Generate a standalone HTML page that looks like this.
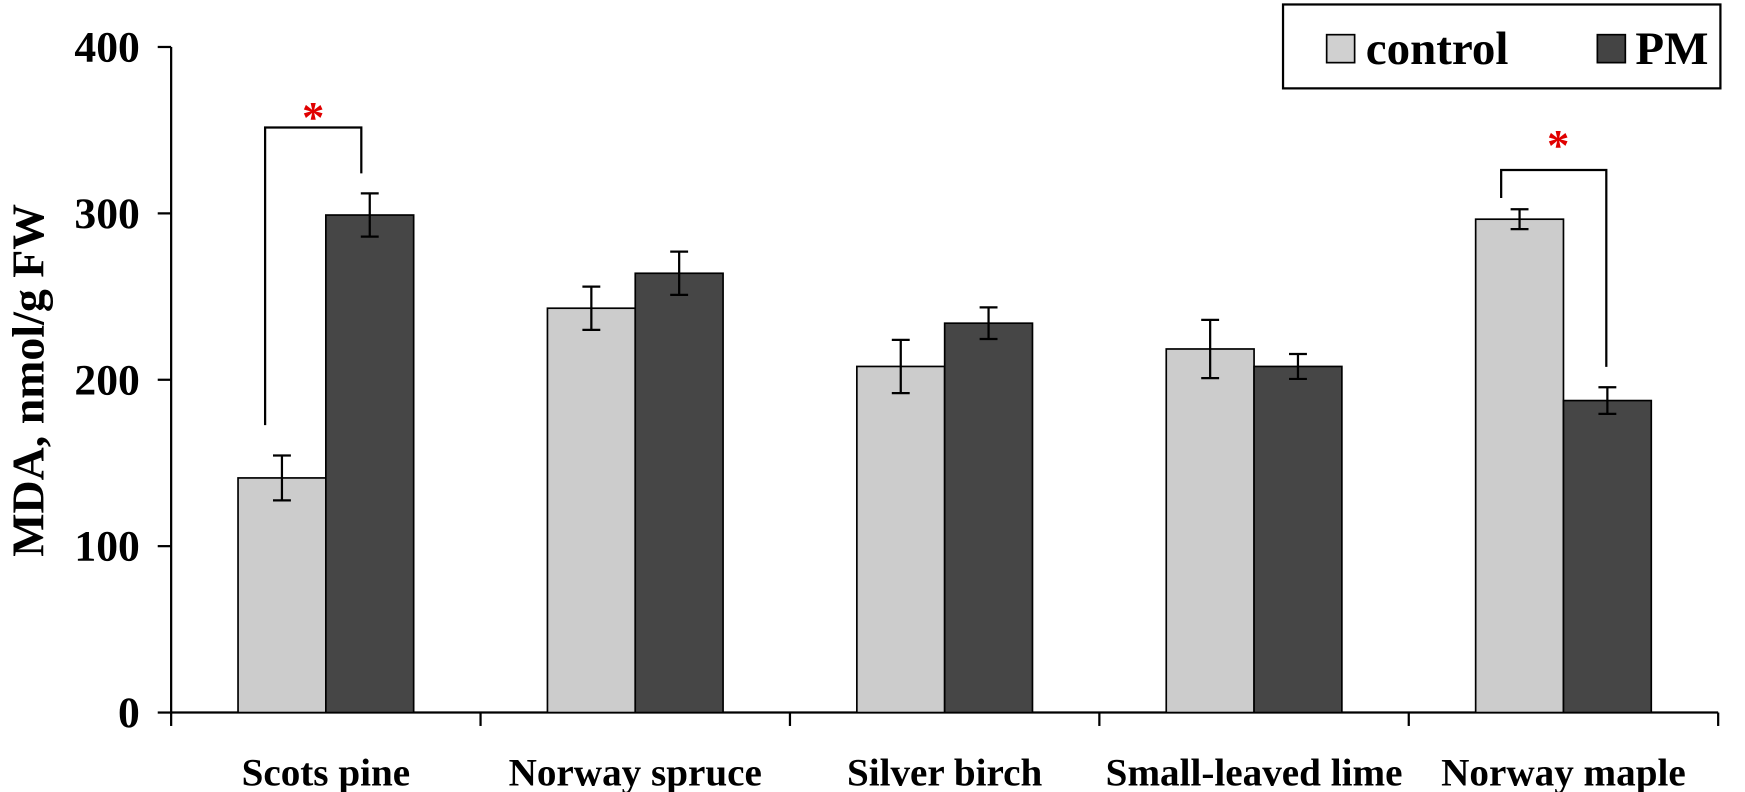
<!DOCTYPE html>
<html><head><meta charset="utf-8"><style>
html,body{margin:0;padding:0;background:#fff}
svg{display:block;font-family:"Liberation Serif",serif;font-weight:bold}
</style></head><body>
<svg width="1745" height="792" viewBox="0 0 1745 792">
<g transform="scale(1.1186)">
<g id="axes"></g><g id="bars"></g>
<g>
<rect x="1147" y="4" width="391" height="75" fill="#fff" stroke="#000" stroke-width="2"/>
<rect x="1186" y="31" width="25" height="25" fill="#d0d0d0" stroke="#000" stroke-width="1.5"/>
<text x="1221" y="57" font-size="42">control</text>
<rect x="1428" y="31" width="25" height="25" fill="#444" stroke="#000" stroke-width="1.5"/>
<text x="1462" y="57" font-size="42">PM</text>
</g>
<text transform="translate(39,340) rotate(-90)" text-anchor="middle" font-size="41">MDA, nmol/g FW</text>
<g>
<polyline points="237,380 237,114 323,114 323,155" fill="none" stroke="#000" stroke-width="2"/>
<text x="280" y="118" text-anchor="middle" font-size="40" fill="#e00000">*</text>
</g>
<g>
<polyline points="1342,177 1342,152 1436,152 1436,328" fill="none" stroke="#000" stroke-width="2"/>
<text x="1393" y="143" text-anchor="middle" font-size="40" fill="#e00000">*</text>
</g>
</g>
</svg>
<script>
const categories=["Scots pine","Norway spruce","Silver birch","Small-leaved lime","Norway maple"];
const controlValues=[141,243,208,218.5,296.5];
const controlErrors=[13.5,13,16,17.5,6];
const pmValues=[299,264,234,208,187.5];
const pmErrors=[13,13,9.5,7.5,8];
const yTicks=[0,100,200,300,400];
const NS="http://www.w3.org/2000/svg";
const x0=153,x1=1536,y0=637,yTop=42,yMax=400;
const y=v=>y0-(v/yMax)*(y0-yTop);
const cw=(x1-x0)/categories.length;
const bw=78.5;
function mk(t,a,p){const e=document.createElementNS(NS,t);for(const k in a)e.setAttribute(k,a[k]);p.appendChild(e);return e;}
const axes=document.getElementById('axes'),bars=document.getElementById('bars');
let l=mk('line',{x1:x0,y1:yTop,x2:x0,y2:y0+1,stroke:'#000','stroke-width':2},axes);


l=mk('line',{x1:x0-1,y1:y0,x2:x1,y2:y0,stroke:'#000','stroke-width':2},axes);


yTicks.forEach(v=>{
 const t=mk('line',{x1:x0-12,y1:y(v),x2:x0,y2:y(v),stroke:'#000','stroke-width':2},axes);
 
 
 const tx=mk('text',{x:x0-28,y:y(v)+13,'text-anchor':'end','font-size':39},axes);
 tx.textContent=v;
 
 
});
for(let i=0;i<=categories.length;i++){
 const t=mk('line',{x1:x0+i*cw,y1:y0,x2:x0+i*cw,y2:y0+12,stroke:'#000','stroke-width':2},axes);
 
 
}
function bar(xl,v,e,fill,name){
 const r=mk('rect',{x:xl,y:y(v),width:bw,height:y0-y(v),fill:fill,stroke:'#000','stroke-width':1.5},bars);
 
 
 const cx=xl+bw/2;
 const g=mk('path',{d:`M${cx},${y(v+e)}V${y(v-e)}M${cx-8},${y(v+e)}H${cx+8}M${cx-8},${y(v-e)}H${cx+8}`,stroke:'#000','stroke-width':2,fill:'none'},bars);
 
 
}
categories.forEach((c,i)=>{
 const cx=x0+cw*(i+0.5);
 bar(cx-bw,controlValues[i],controlErrors[i],'#cccccc','bar-control');
 bar(cx,pmValues[i],pmErrors[i],'#464646','bar-pm');
 const t=mk('text',{x:cx,y:702,'text-anchor':'middle','font-size':35},axes);
 t.textContent=c;
 
 
});
</script>
</body></html>
